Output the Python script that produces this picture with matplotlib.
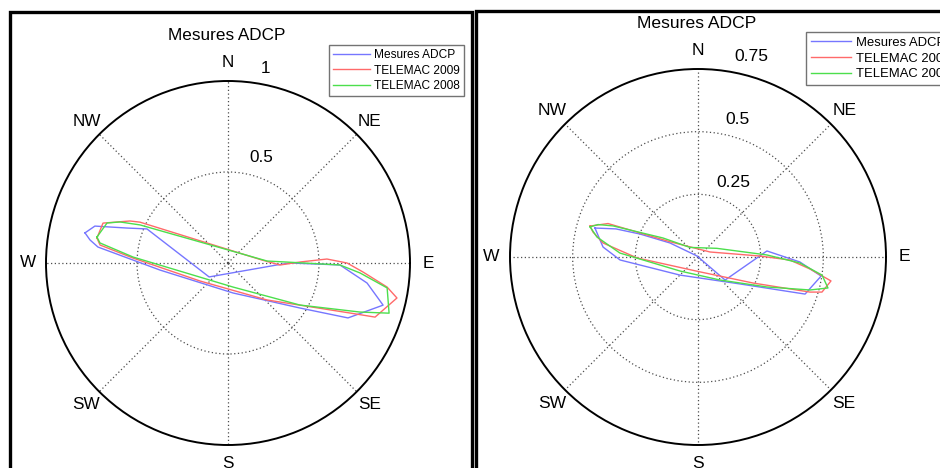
import numpy as np
import matplotlib
matplotlib.use("Agg")
import matplotlib.pyplot as plt
from matplotlib.patches import Rectangle

plt.rcParams['font.family'] = ['Liberation Sans', 'DejaVu Sans']

# ---------------- data (direction in degrees, counter-clockwise from East; speed) -------------
title_text = "Mesures ADCP"
series_labels = ["Mesures ADCP", "TELEMAC 2009", "TELEMAC 2008"]
compass_angles = [0, 45, 90, 135, 180, 225, 270, 315]
compass_labels = ["E", "NE", "N", "NW", "W", "SW", "S", "SE"]

# Left panel
left_rmax = 1.0
left_rticks = [0.5, 1.0]
left_rtick_labels = ["0.5", "1"]
left_adcp_theta = [168.1, 164.5, 160.9, 157.2, 216.4, 357.7, 0.0, 359.0, 351.8, 344.8,
                   335.4, 328.0, 279.5, 185.9, 173.0, 170.5, 168.1]
left_adcp_r = [0.803, 0.759, 0.587, 0.483, 0.129, 0.269, 0.341, 0.615, 0.772, 0.883,
               0.725, 0.467, 0.167, 0.376, 0.720, 0.769, 0.803]
left_t2009_theta = [169.2, 162.3, 156.8, 155.1, 4.9, 357.8, 0.8, 2.3, 0.0, 356.2,
                    351.4, 348.3, 339.8, 337.7, 316.5, 212.7, 177.0, 172.0, 169.2]
left_t2009_r = [0.733, 0.721, 0.586, 0.533, 0.188, 0.286, 0.396, 0.544, 0.654, 0.743,
                0.884, 0.948, 0.861, 0.724, 0.295, 0.183, 0.523, 0.710, 0.733]
left_t2008_theta = [168.8, 161.7, 159.2, 156.6, 2.9, 0.9, 359.0, 355.7, 351.1, 342.7,
                    339.6, 329.7, 281.8, 176.4, 171.1, 168.8]
left_t2008_r = [0.734, 0.700, 0.635, 0.527, 0.215, 0.324, 0.615, 0.727, 0.885, 0.927,
                0.773, 0.458, 0.135, 0.523, 0.712, 0.734]

# Right panel
right_rmax = 0.75
right_rticks = [0.25, 0.5, 0.75]
right_rtick_labels = ["0.25", "0.5", "0.75"]
right_adcp_theta = [164.3, 161.1, 158.4, 153.4, 135.0, 319.6, 5.0, 357.2, 351.2, 340.9,
                    327.3, 225.0, 182.2, 174.0, 164.3]
right_adcp_r = [0.427, 0.346, 0.249, 0.125, 0.006, 0.142, 0.276, 0.407, 0.497, 0.452,
                0.199, 0.102, 0.311, 0.381, 0.427]
right_t2009_theta = [164.0, 159.6, 151.4, 22.6, 0.9, 358.1, 353.9, 349.8, 344.2, 342.6,
                     334.7, 278.0, 180.9, 171.6, 166.6, 164.0]
right_t2009_r = [0.448, 0.383, 0.127, 0.052, 0.247, 0.367, 0.449, 0.539, 0.514, 0.468,
                 0.243, 0.060, 0.243, 0.383, 0.431, 0.448]
right_t2008_theta = [164.4, 162.0, 159.9, 151.5, 130.1, 24.6, 1.7, 356.6, 351.7, 346.6,
                     343.6, 336.5, 313.7, 217.9, 177.1, 168.8, 164.4]
right_t2008_r = [0.447, 0.419, 0.361, 0.159, 0.050, 0.083, 0.275, 0.408, 0.500, 0.533,
                 0.466, 0.300, 0.127, 0.091, 0.312, 0.411, 0.447]

# ---------------- styling -------------
colors = ["#7676ff", "#ff6a6a", "#4cdf4c"]
W, H = 940, 468

fig = plt.figure(figsize=(W / 100, H / 100), dpi=100)


def fx(px):
    return px / W


def fy(py):
    return 1 - py / H


def make_panel(cx, cy, R, rmax, rticks, rtick_labels, rlabel_pos, series, title_xy,
               legend_xy, fs_text, fs_legend):
    ax = fig.add_axes([fx(cx - R), fy(cy + R), 2 * R / W, 2 * R / H], projection='polar')
    ax.set_ylim(0, rmax)
    ax.set_thetagrids(compass_angles, labels=[''] * len(compass_angles))
    inner = [t for t in rticks if t < rmax]
    ax.set_rgrids(inner, labels=[''] * len(inner))
    ax.grid(True, color='0.3', linestyle=(0, (1, 2)), linewidth=0.9)
    ax.spines['polar'].set_color('black')
    ax.spines['polar'].set_linewidth(1.4)
    ax.tick_params(length=0)
    handles = []
    for (th, r), c, lab in zip(series, colors, series_labels):
        h, = ax.plot(np.deg2rad(th), r, color=c, linewidth=1.0, label=lab)
        handles.append(h)
    for ang, lab in zip(compass_angles, compass_labels):
        ax.text(np.deg2rad(ang), rmax * 1.1, lab, ha='center', va='center',
                fontsize=fs_text, clip_on=False)
    for lab, (ang, rr) in zip(rtick_labels, rlabel_pos):
        ax.text(np.deg2rad(ang), rr, lab, ha='center', va='center', fontsize=fs_text,
                clip_on=False)
    fig.text(fx(title_xy[0]), fy(title_xy[1]), title_text, ha='center', va='center',
             fontsize=fs_text)
    leg = ax.legend(handles=handles, loc='upper left',
                    bbox_to_anchor=(fx(legend_xy[0]), fy(legend_xy[1])),
                    bbox_transform=fig.transFigure, fancybox=False, framealpha=1,
                    edgecolor='0.45', fontsize=fs_legend, handlelength=3.1,
                    handletextpad=0.35, borderpad=0.35, labelspacing=0.28,
                    borderaxespad=0)
    leg.get_frame().set_linewidth(1.0)
    return ax


make_panel(228, 263, 182, left_rmax, left_rticks, left_rtick_labels,
           [(72.6, 0.61), (79.0, 1.09)],
           [(left_adcp_theta, left_adcp_r), (left_t2009_theta, left_t2009_r),
            (left_t2008_theta, left_t2008_r)],
           (227, 35), (329, 45), 12.3, 8.6)

make_panel(698, 257, 188, right_rmax, right_rticks, right_rtick_labels,
           [(65.0, 0.33), (74.2, 0.572), (75.2, 0.826)],
           [(right_adcp_theta, right_adcp_r), (right_t2009_theta, right_t2009_r),
            (right_t2008_theta, right_t2008_r)],
           (697, 23), (806, 32), 12.6, 9.4)

# panel frames (two screenshots side by side)
fig.add_artist(Rectangle((fx(10), -0.1), (472 - 10) / W, fy(12) + 0.1, fill=False,
                         edgecolor='black', linewidth=2.4, transform=fig.transFigure,
                         clip_on=False))
fig.add_artist(Rectangle((fx(476), -0.1), 1.0, fy(11) + 0.1, fill=False,
                         edgecolor='black', linewidth=2.4, transform=fig.transFigure,
                         clip_on=False))

fig.savefig("out.png", dpi=100)
